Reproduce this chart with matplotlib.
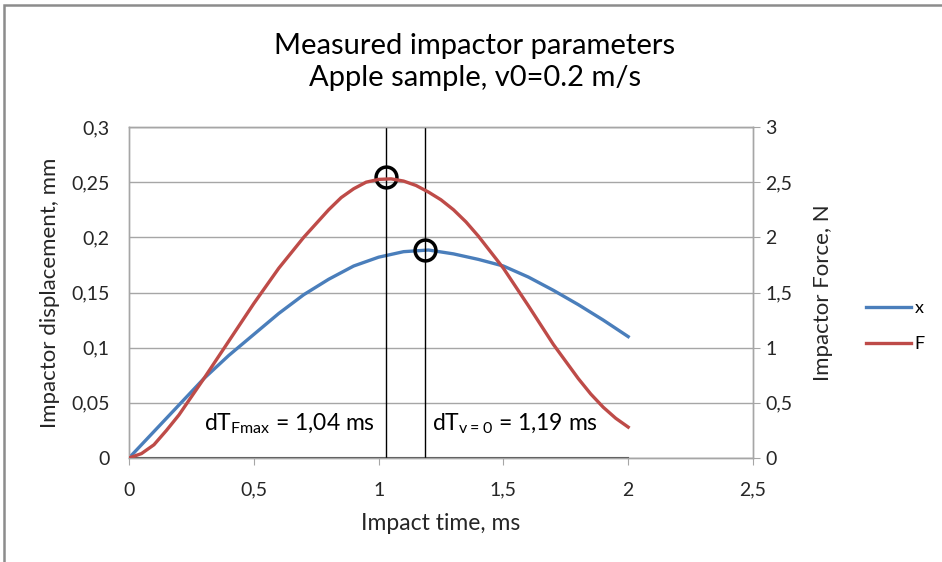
import matplotlib
matplotlib.use('Agg')
import matplotlib.pyplot as plt
from matplotlib.patches import Rectangle

plt.rcParams['font.family'] = ['Lato', 'DejaVu Sans']
plt.rcParams['mathtext.fontset'] = 'custom'
plt.rcParams['mathtext.rm'] = 'Lato'

# Daten
t_x = [0.0, 0.1, 0.2, 0.3, 0.4, 0.5, 0.6, 0.7, 0.8, 0.9, 1.0,
       1.1, 1.2, 1.3, 1.4, 1.5, 1.6, 1.7, 1.8, 1.9, 2.0]
x_mm = [0.0, 0.024, 0.048, 0.072, 0.093, 0.112, 0.131, 0.148, 0.162, 0.174, 0.182,
        0.187, 0.1885, 0.185, 0.180, 0.174, 0.164, 0.152, 0.139, 0.125, 0.110]

t_F = [0.0, 0.05, 0.1, 0.15, 0.2, 0.3, 0.4, 0.5, 0.6, 0.7, 0.8, 0.85, 0.9, 0.95, 1.0,
       1.05, 1.1, 1.15, 1.2, 1.25, 1.3, 1.35, 1.4, 1.5, 1.6, 1.7, 1.8, 1.85, 1.9, 1.95, 2.0]
F_N = [0.0, 0.04, 0.12, 0.25, 0.39, 0.72, 1.06, 1.40, 1.72, 2.00, 2.25, 2.36, 2.44, 2.50, 2.525,
       2.53, 2.51, 2.47, 2.41, 2.34, 2.25, 2.14, 2.01, 1.72, 1.38, 1.03, 0.72, 0.58, 0.46, 0.36, 0.28]

base_t = [0.0, 2.0]
base_y = [0.0, 0.0]

t_fmax = 1.03
t_v0 = 1.185
mark_x = [t_fmax, t_v0]
mark_y = [0.255, 0.1885]

x_ticks = [0, 0.5, 1, 1.5, 2, 2.5]
x_ticklabels = ['0', '0,5', '1', '1,5', '2', '2,5']
y1_ticks = [0, 0.05, 0.1, 0.15, 0.2, 0.25, 0.3]
y1_ticklabels = ['0', '0,05', '0,1', '0,15', '0,2', '0,25', '0,3']
y2_ticks = [0, 0.5, 1, 1.5, 2, 2.5, 3]
y2_ticklabels = ['0', '0,5', '1', '1,5', '2', '2,5', '3']

blue = '#4A7EBB'
red = '#BE4B48'
grid_c = '#A6A6A6'
txt_c = '#262626'

fig = plt.figure(figsize=(9.42, 5.62), dpi=100)
fig.patches.append(Rectangle((4 / 942, -0.1), 1.2, 1 - 5 / 562 + 0.1,
                             transform=fig.transFigure, fill=False,
                             edgecolor='#8C8C8C', linewidth=1.8, zorder=0))

ax = fig.add_axes([129 / 942, 1 - 458 / 562, 624 / 942, 331 / 562])
ax2 = ax.twinx()

ax.set_xlim(0, 2.5)
ax.set_ylim(0, 0.3)
ax2.set_ylim(0, 3)

for y in y1_ticks:
    ax.axhline(y, color=grid_c, lw=1.0, zorder=0)

ax.plot(base_t, base_y, color='#404040', lw=1.5, zorder=2)
lx, = ax.plot(t_x, x_mm, color=blue, lw=2.4, zorder=3, solid_joinstyle='round')
lf, = ax2.plot(t_F, F_N, color=red, lw=2.4, zorder=3, solid_joinstyle='round')

ax.axvline(t_fmax, color='black', lw=1.0, zorder=4)
ax.axvline(t_v0, color='black', lw=1.0, zorder=4)
ax.plot(mark_x, mark_y, 'o', ms=15, mfc='none', mec='black', mew=2.5, zorder=5)

ax.text(0.3, 0.025, r'dT$_\mathregular{Fmax}$ = 1,04 ms', fontsize=16.5, color='black', zorder=6)
ax.text(1.215, 0.025, r'dT$_\mathregular{v=0}$ = 1,19 ms', fontsize=16.5, color='black', zorder=6)

ax.set_xticks(x_ticks)
ax.set_xticklabels(x_ticklabels)
ax.set_yticks(y1_ticks)
ax.set_yticklabels(y1_ticklabels)
ax2.set_yticks(y2_ticks)
ax2.set_yticklabels(y2_ticklabels)

ax.tick_params(axis='x', length=5, color=grid_c, labelsize=14, labelcolor=txt_c, pad=12)
ax.tick_params(axis='y', length=0, labelsize=14, labelcolor=txt_c, pad=14)
ax2.tick_params(axis='y', length=5, color=grid_c, labelsize=14, labelcolor=txt_c, pad=4)

for a in (ax, ax2):
    for s in a.spines.values():
        s.set_color(grid_c)
        s.set_linewidth(1.0)

ax.set_xlabel('Impact time, ms', fontsize=16.5, color=txt_c, labelpad=10)
ax.set_ylabel('Impactor displacement, mm', fontsize=16, color=txt_c, labelpad=8)
ax2.set_ylabel('Impactor Force, N', fontsize=16, color=txt_c, labelpad=15)

fig.text(475 / 942, 1 - 62 / 562, 'Measured impactor parameters\nApple sample, v0=0.2 m/s',
         ha='center', va='center', fontsize=21, color='black', linespacing=1.25)

fig.legend([lx, lf], ['x', 'F'], loc='upper left', bbox_to_anchor=(866 / 942, 1 - 300 / 562),
           frameon=False, fontsize=13, handlelength=2.5, handletextpad=0.2,
           labelspacing=1.1, borderpad=0, borderaxespad=0)

fig.savefig('out.png', dpi=100)
